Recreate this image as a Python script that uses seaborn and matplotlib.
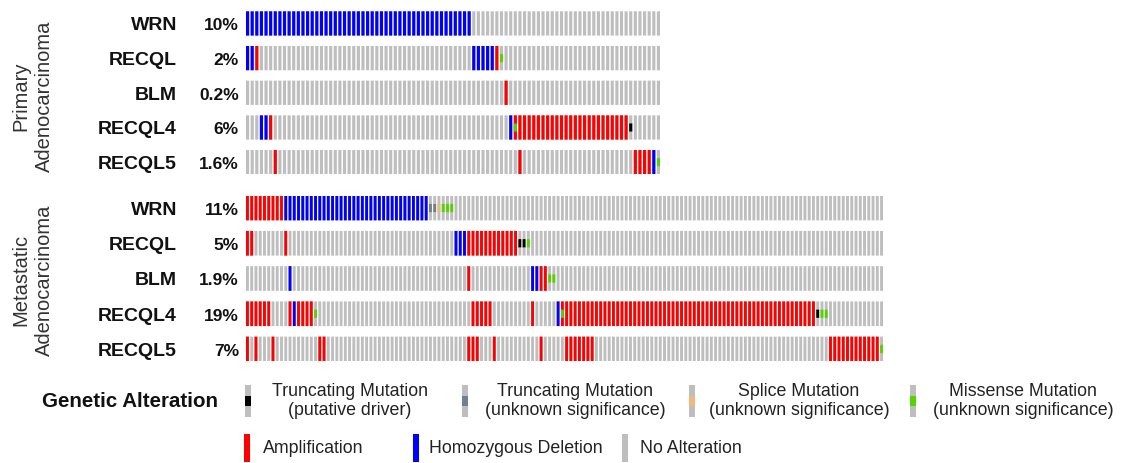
import matplotlib
matplotlib.use("Agg")
import matplotlib.pyplot as plt
import matplotlib.transforms as mtransforms
import seaborn as sns

sns.set_style("white")
plt.rcParams['font.family'] = ['Liberation Sans', 'DejaVu Sans']

# ---------------- data ----------------
genes = ["WRN", "RECQL", "BLM", "RECQL4", "RECQL5"]
primary_pct = ["10%", "2%", "0.2%", "6%", "1.6%"]
metastatic_pct = ["11%", "5%", "1.9%", "19%", "7%"]
primary_n = 90
metastatic_n = 150

# copy-number runs: (first column, last column, code)  A=amplification, D=deep deletion
primary_cna = {
    "WRN":    [(0, 48, "D")],
    "RECQL":  [(0, 1, "D"), (2, 2, "A"), (49, 53, "D"), (54, 54, "A")],
    "BLM":    [(56, 56, "A")],
    "RECQL4": [(3, 4, "D"), (5, 5, "A"), (57, 57, "D"), (58, 82, "A")],
    "RECQL5": [(6, 6, "A"), (59, 59, "A"), (84, 87, "A"), (88, 88, "D")],
}
# mutation runs: M=missense VUS, T=truncating driver, U=truncating VUS, S=splice VUS
primary_mut = {
    "WRN":    [],
    "RECQL":  [(55, 55, "M")],
    "BLM":    [],
    "RECQL4": [(58, 58, "M"), (83, 83, "T")],
    "RECQL5": [(89, 89, "M")],
}
metastatic_cna = {
    "WRN":    [(0, 8, "A"), (9, 42, "D")],
    "RECQL":  [(0, 1, "A"), (9, 9, "A"), (49, 51, "D"), (52, 63, "A")],
    "BLM":    [(10, 10, "D"), (52, 52, "A"), (67, 68, "D"), (69, 70, "A")],
    "RECQL4": [(0, 5, "A"), (10, 10, "A"), (11, 11, "D"), (12, 15, "A"), (53, 57, "A"),
               (67, 67, "A"), (73, 73, "D"), (74, 133, "A")],
    "RECQL5": [(0, 0, "A"), (2, 2, "A"), (6, 6, "A"), (17, 18, "A"), (52, 54, "A"),
               (58, 58, "A"), (69, 69, "A"), (75, 81, "A"), (137, 148, "A")],
}
metastatic_mut = {
    "WRN":    [(43, 44, "U"), (45, 45, "S"), (46, 48, "M")],
    "RECQL":  [(64, 65, "T"), (66, 66, "M")],
    "BLM":    [(71, 72, "M")],
    "RECQL4": [(16, 16, "M"), (74, 74, "M"), (134, 134, "T"), (135, 136, "M")],
    "RECQL5": [(149, 149, "M")],
}

colors = {"N": "#BEBEBE", "A": "#FF0000", "D": "#0000FF", "M": "#53D400",
          "T": "#000000", "U": "#708090", "S": "#F0B87B"}

mut_legend = ["Truncating Mutation\n(putative driver)",
              "Truncating Mutation\n(unknown significance)",
              "Splice Mutation\n(unknown significance)",
              "Missense Mutation\n(unknown significance)"]
mut_legend_codes = ["T", "U", "S", "M"]
cna_legend = ["Amplification", "Homozygous Deletion", "No Alteration"]
cna_legend_codes = ["A", "D", "N"]

# ---------------- layout ----------------
W, H = 1121, 464
fig = plt.figure(figsize=(W / 100, H / 100), dpi=100)
BW = 0.68   # bar width (column units)
BH = 0.70   # bar height (row units)


def fx(x):
    return x / W


def fy(y):
    return 1 - y / H


def draw_print(left, right, top, bottom, n, cna, mut, pct, group_label, group_y):
    ax = fig.add_axes([fx(left), fy(bottom), fx(right) - fx(left), fy(top) - fy(bottom)])
    ax.set_xlim(0, n - 1 + BW)
    ax.set_ylim(len(genes) - 1 + BH / 2, -BH / 2)
    ax.axis("off")
    cols = list(range(n))
    for r, g in enumerate(genes):
        ax.bar(cols, [BH] * n, width=BW, bottom=r - BH / 2, align="edge",
               color=colors["N"], linewidth=0, snap=False)
        for a, b, c in cna[g]:
            xs = list(range(a, b + 1))
            ax.bar(xs, [BH] * len(xs), width=BW, bottom=r - BH / 2, align="edge",
                   color=colors[c], linewidth=0, snap=False)
        for a, b, c in mut[g]:
            xs = list(range(a, b + 1))
            ax.bar(xs, [BH / 3] * len(xs), width=BW, bottom=r - BH / 6, align="edge",
                   color=colors[c], linewidth=0, snap=False)
    tr = mtransforms.blended_transform_factory(fig.transFigure, ax.transData)
    for r, g in enumerate(genes):
        ax.text(fx(177), r + 0.04, g, transform=tr, ha="right", va="center",
                fontsize=14, fontweight="bold", color="#111111")
        ax.text(fx(239), r + 0.04, pct[r], transform=tr, ha="right", va="center",
                fontsize=12.5, fontweight="bold", color="#111111")
    fig.text(fx(33), fy(group_y), group_label, rotation=90, ha="center", va="center",
             multialignment="center", fontsize=14.5, color="#333333", linespacing=1.3)
    return ax


draw_print(246, 660, 12.3, 175.3, primary_n, primary_cna, primary_mut, primary_pct,
           "Primary\nAdenocarcinoma", 96)
draw_print(246, 883, 196.7, 362.3, metastatic_n, metastatic_cna, metastatic_mut,
           metastatic_pct, "Metastatic\nAdenocarcinoma", 280)

# ---------------- legend ----------------
lg = fig.add_axes([0, 0, 1, 1])
lg.set_xlim(0, W)
lg.set_ylim(H, 0)
lg.axis("off")
lg.patch.set_alpha(0)

lg.text(42, 402, "Genetic Alteration", ha="left", va="center", fontsize=14.8,
        fontweight="bold", color="#111111")

glyph_x = [245, 462, 689, 910]
text_x = [350, 575, 799, 1023]
gh = 32
for gx, tx, code, lab in zip(glyph_x, text_x, mut_legend_codes, mut_legend):
    lg.bar(gx, gh, width=6, bottom=386, align="edge", color=colors["N"], linewidth=0)
    lg.bar(gx, gh / 3, width=6, bottom=386 + gh / 3, align="edge", color=colors[code],
           linewidth=0)
    lg.text(tx, 401, lab, ha="center", va="center", fontsize=12.8, color="#222222",
            linespacing=1.2, multialignment="center")

glyph2_x = [244, 413, 622]
text2_x = [263, 429, 640]
for gx, tx, code, lab in zip(glyph2_x, text2_x, cna_legend_codes, cna_legend):
    lg.bar(gx, 28, width=6, bottom=435, align="edge", color=colors[code], linewidth=0)
    lg.text(tx, 449, lab, ha="left", va="center", fontsize=12.8, color="#222222")

fig.savefig("out.png", dpi=100, facecolor="white")
